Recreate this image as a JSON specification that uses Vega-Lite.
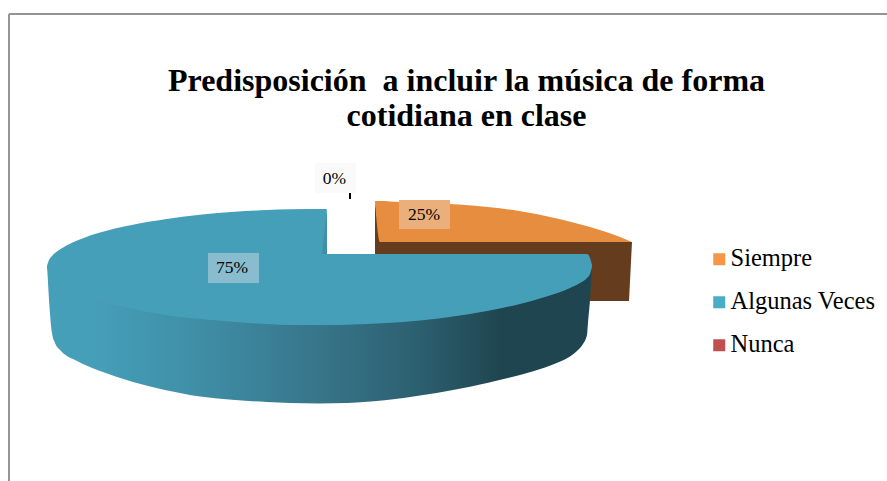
{
"$schema":"https://vega.github.io/schema/vega-lite/v6.json",
"width":887,"height":481,"autosize":{"type":"none"},"padding":0,"background":"white",
"config":{"view":{"stroke":null}},
"title":{"text":["Predisposición\u00a0 a incluir la música de forma","cotidiana en clase"],"font":"Liberation Serif","fontSize":32,"fontWeight":"bold","color":"black","anchor":"middle","frame":"group","lineHeight":35,"dx":23,"dy":162,"baseline":"alphabetic"},
"datasets":{
"frame":[{"x":9,"x2":887,"y":14,"y2":14},{"x":9,"x2":9,"y":14,"y2":481}],
"brown":[{"x":375,"y":201,"y2":301},{"x":380,"y":242,"y2":301},{"x":629,"y":242,"y2":301},{"x":632,"y":242,"y2":242}],
"orange":[{"x":375,"y":201,"y2":201},{"x":380,"y":201,"y2":242},{"x":400,"y":202,"y2":242},{"x":425,"y":202.8,"y2":242},{"x":450,"y":204,"y2":242},{"x":475,"y":205.8,"y2":242},{"x":500,"y":208.3,"y2":242},{"x":525,"y":212,"y2":242},{"x":550,"y":217,"y2":242},{"x":575,"y":223,"y2":242},{"x":600,"y":230,"y2":242},{"x":620,"y":237,"y2":242},{"x":632,"y":242,"y2":242}],
"side":[{"x":47,"y":265,"y2":265},{"x":52,"y":272,"y2":333},{"x":55,"y":275,"y2":343},{"x":60,"y":280,"y2":350},{"x":67,"y":284,"y2":356},{"x":75,"y":288,"y2":360},{"x":83,"y":292,"y2":364},{"x":100,"y":297,"y2":371},{"x":117,"y":301,"y2":377},{"x":133,"y":305,"y2":382},{"x":150,"y":308,"y2":386.5},{"x":165,"y":311,"y2":390},{"x":200,"y":315,"y2":396.5},{"x":235,"y":318,"y2":400},{"x":267,"y":320,"y2":402},{"x":290,"y":321,"y2":403},{"x":319,"y":321,"y2":403.5},{"x":347,"y":321,"y2":403},{"x":387,"y":319,"y2":400},{"x":420,"y":317,"y2":395.5},{"x":453,"y":312,"y2":390},{"x":487,"y":307,"y2":383},{"x":520,"y":300,"y2":375},{"x":545,"y":293,"y2":367.5},{"x":553,"y":291,"y2":364.5},{"x":570,"y":284,"y2":356.5},{"x":577,"y":281,"y2":351},{"x":583,"y":277,"y2":344},{"x":587,"y":275,"y2":335},{"x":588,"y":274,"y2":323},{"x":590,"y":271,"y2":300},{"x":592,"y":265,"y2":265}],
"top":[{"x":47,"y":266,"y2":267},{"x":49,"y":260,"y2":274},{"x":52,"y":255.9,"y2":278},{"x":58,"y":250.7,"y2":283},{"x":64,"y":247,"y2":287},{"x":70,"y":243.7,"y2":290},{"x":83,"y":238.2,"y2":296},{"x":100,"y":232.6,"y2":301},{"x":115,"y":228.6,"y2":305},{"x":133,"y":224.7,"y2":309},{"x":150,"y":221.6,"y2":312.5},{"x":165,"y":219.2,"y2":315},{"x":200,"y":214.8,"y2":319},{"x":235,"y":211.8,"y2":322},{"x":267,"y":210.1,"y2":324},{"x":290,"y":209.3,"y2":325},{"x":326.7,"y":209,"y2":325},{"x":327,"y":254,"y2":325},{"x":347,"y":254,"y2":324.7},{"x":387,"y":254,"y2":323},{"x":420,"y":254,"y2":320.5},{"x":453,"y":254,"y2":316.5},{"x":487,"y":254,"y2":311},{"x":520,"y":254,"y2":304},{"x":545,"y":254,"y2":297},{"x":570,"y":254,"y2":288},{"x":580,"y":254,"y2":283},{"x":587,"y":254,"y2":278},{"x":590,"y":258,"y2":274},{"x":592,"y":265,"y2":267}],
"notch":[{"x":322,"y":254,"y2":254},{"x":327,"y":209,"y2":254}],
"boxes":[{"x":315,"x2":356,"y":163,"y2":193,"part":"Nunca"},{"x":399,"x2":450,"y":200,"y2":229,"part":"Siempre"},{"x":208,"x2":259,"y":253,"y2":283,"part":"Algunas Veces"}],
"tick":[{"x":350,"x2":350,"y":193,"y2":199}],
"slices":[{"category":"Siempre","share":0.25,"x":424,"y":215},{"category":"Algunas Veces","share":0.75,"x":232,"y":268},{"category":"Nunca","share":0,"x":334.5,"y":179}]
},
"encoding":{
"x":{"field":"x","type":"quantitative","scale":{"domain":[0,887],"nice":false,"zero":false},"axis":null},
"y":{"field":"y","type":"quantitative","scale":{"domain":[0,481],"reverse":true,"nice":false,"zero":false},"axis":null}
},
"layer":[
{"data":{"name":"frame"},"mark":{"type":"rule","color":"#949494","strokeWidth":2},"encoding":{"x2":{"field":"x2"},"y2":{"field":"y2"}}},
{"data":{"name":"brown"},"mark":{"type":"area","color":"#663C1E"},"encoding":{"y2":{"field":"y2"}}},
{"data":{"name":"orange"},"mark":{"type":"area","color":"#E68D40","interpolate":"monotone"},"encoding":{"y2":{"field":"y2"}}},
{"data":{"name":"side"},"mark":{"type":"area","interpolate":"monotone","color":{"gradient":"linear","x1":0,"y1":0,"x2":1,"y2":0,"stops":[{"offset":0,"color":"#469FB9"},{"offset":0.08,"color":"#469FB9"},{"offset":0.28,"color":"#3F8EA6"},{"offset":0.5,"color":"#37758A"},{"offset":0.68,"color":"#2C6070"},{"offset":0.83,"color":"#1F4650"},{"offset":1,"color":"#1F4650"}]}},"encoding":{"y2":{"field":"y2"}}},
{"data":{"name":"top"},"mark":{"type":"area","color":"#469FB9","interpolate":"monotone"},"encoding":{"y2":{"field":"y2"}}},
{"data":{"name":"notch"},"mark":{"type":"area","color":"#3F8FA8"},"encoding":{"y2":{"field":"y2"}}},
{"data":{"name":"boxes"},"mark":{"type":"rect"},"encoding":{"x2":{"field":"x2"},"y2":{"field":"y2"},"color":{"field":"part","type":"nominal","legend":null,"scale":{"domain":["Siempre","Algunas Veces","Nunca"],"range":["#EBAF7B","#88BCCE","#FAFAFA"]}}}},
{"data":{"name":"tick"},"mark":{"type":"rule","color":"black","strokeWidth":2},"encoding":{"x2":{"field":"x2"},"y2":{"field":"y2"}}},
{"data":{"name":"slices"},"mark":{"type":"text","font":"Liberation Serif","fontSize":17.5,"color":"black","baseline":"middle","align":"center"},"encoding":{"text":{"field":"share","type":"quantitative","format":".0%"}}},
{"data":{"name":"slices"},"mark":{"type":"point","filled":true,"shape":"square","opacity":0},"encoding":{"fill":{"field":"category","type":"nominal","scale":{"domain":["Siempre","Algunas Veces","Nunca"],"range":["#F79646","#4BACC6","#C0504D"]},"legend":{"title":null,"orient":"none","legendX":707,"legendY":247,"symbolType":"square","symbolSize":144,"symbolOpacity":1,"symbolStrokeWidth":0,"labelFont":"Liberation Serif","labelFontSize":24.5,"labelColor":"black","labelOffset":-1,"rowPadding":18,"padding":0}}}}
],
"resolve":{"scale":{"color":"independent","fill":"independent"}}
}
